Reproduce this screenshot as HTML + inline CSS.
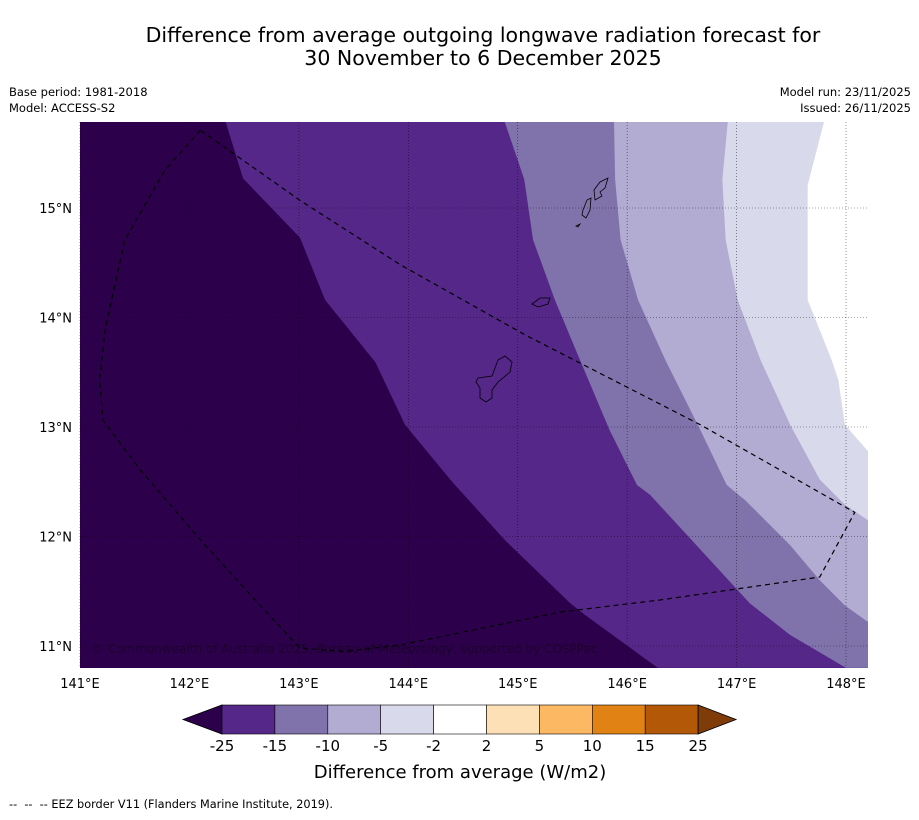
<!DOCTYPE html>
<html><head><meta charset="utf-8">
<style>
body{margin:0;background:#fff;width:919px;height:816px;overflow:hidden;font-family:"DejaVu Sans","Liberation Sans",sans-serif;}
svg text{font-family:"DejaVu Sans","Liberation Sans",sans-serif;}
</style></head>
<body>
<svg id="chart" width="919" height="816" xmlns="http://www.w3.org/2000/svg">
<text x="483" y="42" font-size="20.5" text-anchor="middle">Difference from average outgoing longwave radiation forecast for</text>
<text x="483" y="65" font-size="20.5" text-anchor="middle">30 November to 6 December 2025</text>
<text x="9" y="96" font-size="11.5">Base period: 1981-2018</text>
<text x="9" y="112" font-size="11.5">Model: ACCESS-S2</text>
<text x="911" y="96" font-size="11.5" text-anchor="end">Model run: 23/11/2025</text>
<text x="911" y="112" font-size="11.5" text-anchor="end">Issued: 26/11/2025</text>
<defs><clipPath id="mapclip"><rect x="80" y="122" width="788" height="546"/></clipPath></defs>
<g id="map" clip-path="url(#mapclip)"></g>
<g id="grid"></g>
<g id="axes"></g>
<g id="cbar"></g>
<text x="460" y="778" font-size="18" text-anchor="middle">Difference from average (W/m2)</text>
<text x="9" y="808" font-size="11.3" xml:space="preserve">--  --  -- EEZ border V11 (Flanders Marine Institute, 2019).</text>
</svg>
<script>
// axis extents
const lonMin=141, lonMax=148.2, latTop=15.79, latBot=10.8;
const lonTicks=[141,142,143,144,145,146,147,148];
const latTicks=[11,12,13,14,15];
// contour boundaries (lon,lat), ordered top -> bottom/right
const b1Lon=[142.33,142.49,143.01,143.24,143.70,143.97,144.40,144.88,145.48,145.62,146.28];
const b1Lat=[15.79,15.27,14.73,14.16,13.59,13.02,12.50,11.97,11.39,11.28,10.80];
const b2Lon=[144.88,145.06,145.14,145.34,145.57,145.84,146.09,146.21,146.67,147.12,147.49,148.00];
const b2Lat=[15.79,15.26,14.71,14.16,13.61,12.97,12.47,12.38,11.88,11.39,11.10,10.80];
const b3Lon=[145.88,145.89,145.94,146.10,146.35,146.67,146.91,147.08,147.49,147.76,147.99,148.20];
const b3Lat=[15.79,15.26,14.71,14.16,13.61,12.97,12.47,12.33,11.92,11.60,11.37,11.22];
const b4Lon=[146.92,146.87,146.90,147.01,147.22,147.49,147.76,147.99,148.20];
const b4Lat=[15.79,15.26,14.71,14.16,13.61,13.02,12.52,12.29,12.15];
const b5Lon=[147.80,147.65,147.65,147.87,147.93,147.99,148.20];
const b5Lat=[15.79,15.21,14.16,13.61,13.43,13.02,12.78];
// EEZ border
const eezLon=[142.10,141.78,141.41,141.23,141.18,141.21,141.55,142.10,142.60,143.01,143.42,143.93,145.39,146.30,147.76,148.08,146.67,145.07,143.93,143.01];
const eezLat=[15.71,15.35,14.71,13.89,13.43,13.06,12.61,11.97,11.42,10.98,10.95,11.01,11.31,11.42,11.63,12.22,13.02,13.84,14.48,15.07];
// colorbar
const cbLevels=["-25","-15","-10","-5","-2","2","5","10","15","25"];
const cbColors=["#542788","#8073ac","#b2abd2","#d8daeb","#ffffff","#fee0b6","#fdb863","#e08214","#b35806"];

const X=lon=>80+(lon-141)*109.43;
const Y=lat=>208-(lat-15)*109.5;
const NS="http://www.w3.org/2000/svg";
function mk(tag,attrs,parent){const e=document.createElementNS(NS,tag);for(const k in attrs)e.setAttribute(k,attrs[k]);parent.appendChild(e);return e;}

const map=document.getElementById('map');
let bg=mk('rect',{x:80,y:122,width:788,height:546,fill:'#2d004b'},map);


const bounds=[[b1Lon,b1Lat,'#542788','contour-minus25-to-minus15'],[b2Lon,b2Lat,'#8073ac','contour-minus15-to-minus10'],[b3Lon,b3Lat,'#b2abd2','contour-minus10-to-minus5'],[b4Lon,b4Lat,'#d8daeb','contour-minus5-to-minus2'],[b5Lon,b5Lat,'#ffffff','contour-minus2-to-2']];
bounds.forEach(b=>{
  const pts=b[0].map((lo,i)=>X(lo)+','+Y(b[1][i]));
  const last=b[1][b[1].length-1];
  pts.push(X(lonMax+0.5)+','+Y(last));
  pts.push(X(lonMax+0.5)+','+Y(latTop+0.5));
  pts.push(X(b[0][0])+','+Y(latTop+0.5));
  const p=mk('polygon',{points:pts.join(' '),fill:b[2]},map);
  
  
});
// islands (coastline outlines)
const isl=[
 "478,378 492,376 498,360 505,356 512,362 510,372 498,382 492,390 492,398 486,402 480,398 480,388 476,382",
 "532,304 540,298 550,298 548,304 538,307",
 "583,210 587,200 591,198 590,210 586,218 582,215",
 "594,190 600,182 608,178 605,188 600,192 602,196 595,200",
 "576,226 580,224 578,227"];
isl.forEach(s=>{const p=mk('polygon',{points:s,fill:'none',stroke:'#000','stroke-width':0.8},map);

});
let eez=mk('polygon',{points:eezLon.map((lo,i)=>X(lo)+','+Y(eezLat[i])).join(' '),fill:'none',stroke:'#000','stroke-width':1.2,'stroke-dasharray':'5,4'},map);


let cr=mk('text',{x:92,y:653,'font-size':12,fill:'#000','fill-opacity':0.4},map);
cr.textContent='© Commonwealth of Australia 2025, Bureau of Meteorology, supported by COSPPac';



const grid=document.getElementById('grid');
const axes=document.getElementById('axes');
lonTicks.forEach(l=>{
  let g=mk('line',{x1:X(l),x2:X(l),y1:122,y2:668,stroke:'#000','stroke-width':0.6,'stroke-dasharray':'1,2',opacity:0.7},grid);
  
  
  let t=mk('text',{x:X(l),y:688,'font-size':13,'text-anchor':'middle'},axes);
  t.textContent=l+'°E';
  
  
});
latTicks.forEach(l=>{
  let g=mk('line',{x1:80,x2:868,y1:Y(l),y2:Y(l),stroke:'#000','stroke-width':0.6,'stroke-dasharray':'1,2',opacity:0.7},grid);
  
  
  let t=mk('text',{x:72,y:Y(l)+5,'font-size':13,'text-anchor':'end'},axes);
  t.textContent=l+'°N';
  
  
});

const cb=document.getElementById('cbar');
const cx0=222,cw=52.9,cy=705,ch=29;
let lt=mk('polygon',{points:`183,${cy+ch/2} ${cx0},${cy} ${cx0},${cy+ch}`,fill:'#2d004b',stroke:'#000','stroke-width':0.8},cb);


cbColors.forEach((c,i)=>{
  let r=mk('rect',{x:cx0+i*cw,y:cy,width:cw,height:ch,fill:c,stroke:'#000','stroke-width':0.6},cb);
  
  
});
const xr=cx0+cbColors.length*cw;
let rt=mk('polygon',{points:`${xr},${cy} ${xr+38},${cy+ch/2} ${xr},${cy+ch}`,fill:'#7f3b08',stroke:'#000','stroke-width':0.8},cb);


cbLevels.forEach((s,i)=>{
  let t=mk('text',{x:cx0+i*cw,y:751,'font-size':15,'text-anchor':'middle'},cb);
  t.textContent=s;
  
  
});
</script>
</body></html>
